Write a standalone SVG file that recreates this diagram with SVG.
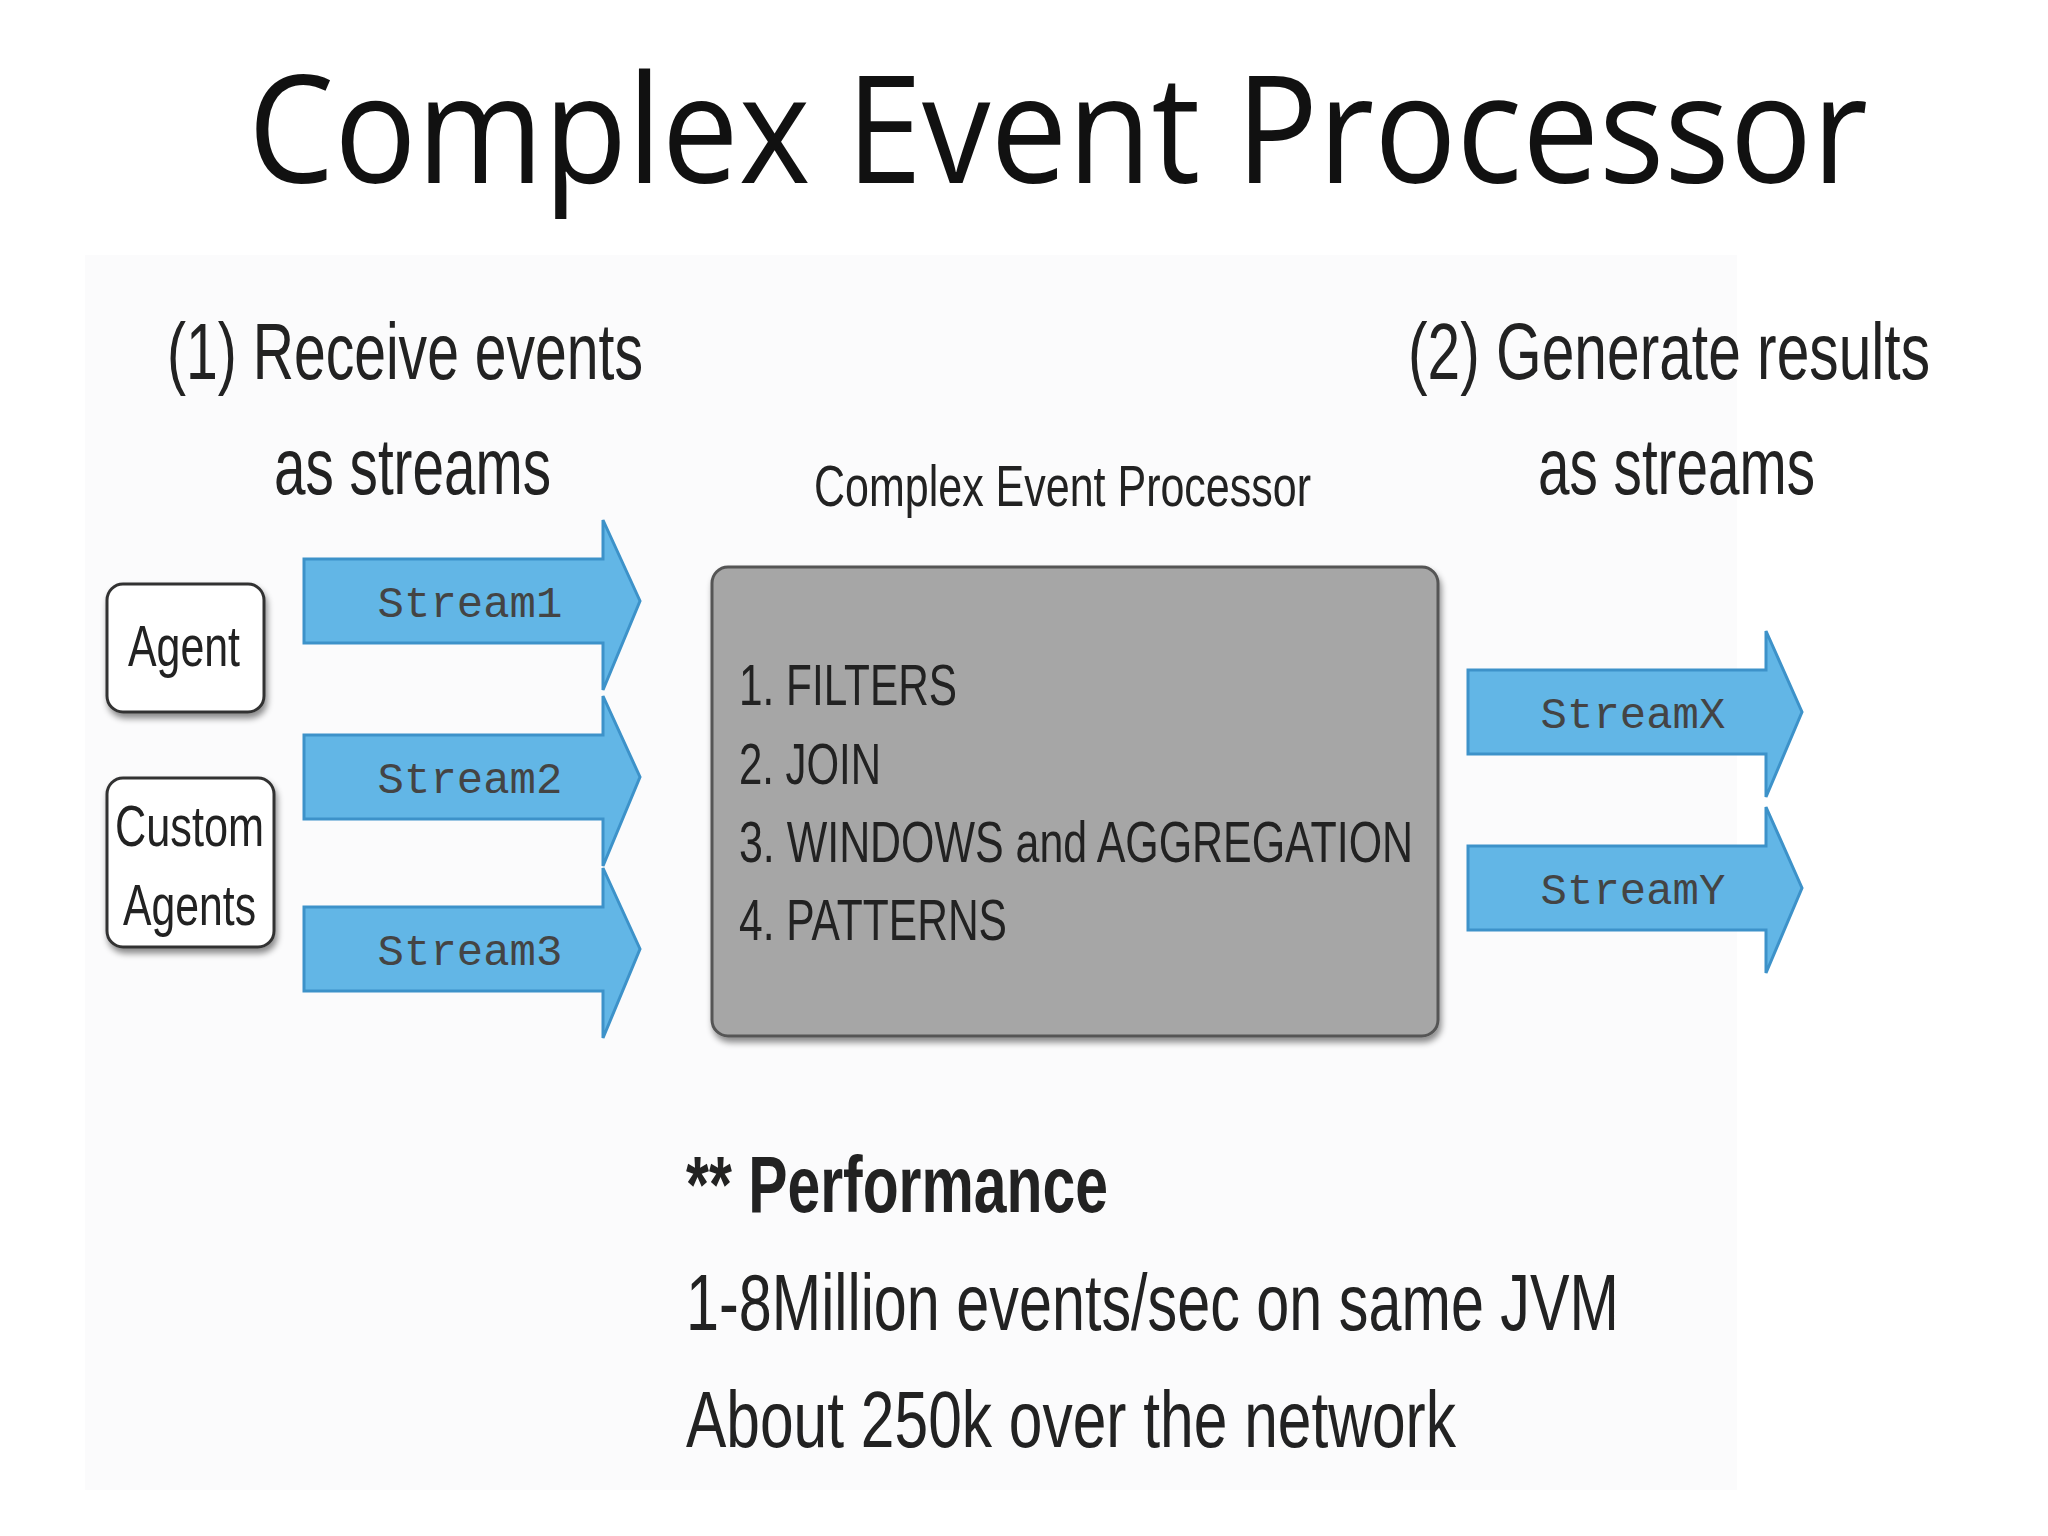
<svg xmlns="http://www.w3.org/2000/svg" width="2048" height="1536" viewBox="0 0 2048 1536">
<style>
.t{font-family:"Open Sans","Liberation Sans",sans-serif;fill:#111}
.c{font-family:"Liberation Sans",sans-serif;fill:#222}
.m{font-family:"Liberation Mono","DejaVu Sans Mono",monospace;font-size:44px;fill:#444;text-anchor:middle}
.arr{fill:#62b6e6;stroke:#3d92c9;stroke-width:3}
.box{fill:#fff;stroke:#333;stroke-width:3}
</style>
<defs>
<filter id="sh" x="-10%" y="-10%" width="130%" height="130%"><feDropShadow dx="2" dy="5" stdDeviation="3" flood-opacity="0.45"/></filter>
</defs>
<rect width="2048" height="1536" fill="#fff"/>
<rect x="85" y="255" width="1652" height="1235" fill="#fbfbfc"/>
<text class="t" x="1058" y="183" font-size="150" text-anchor="middle" textLength="1620" lengthAdjust="spacingAndGlyphs">Complex Event Processor</text>
<text class="c" x="167" y="379" font-size="80" textLength="476" lengthAdjust="spacingAndGlyphs">(1) Receive events</text>
<text class="c" x="274" y="494" font-size="80" textLength="277" lengthAdjust="spacingAndGlyphs">as streams</text>
<text class="c" x="1408" y="379" font-size="80" textLength="522" lengthAdjust="spacingAndGlyphs">(2) Generate results</text>
<text class="c" x="1538" y="494" font-size="80" textLength="277" lengthAdjust="spacingAndGlyphs">as streams</text>
<text class="c" x="814" y="506" font-size="58" textLength="497" lengthAdjust="spacingAndGlyphs">Complex Event Processor</text>
<g id="agent" filter="url(#sh)"><rect class="box" x="107" y="584" width="157" height="128" rx="16"/>
<text class="c" x="128" y="666" font-size="58" textLength="112" lengthAdjust="spacingAndGlyphs">Agent</text></g>
<g id="custom" filter="url(#sh)"><rect class="box" x="107" y="778" width="167" height="169" rx="16"/>
<text class="c" x="115" y="846" font-size="58" textLength="149" lengthAdjust="spacingAndGlyphs">Custom</text>
<text class="c" x="123" y="925" font-size="58" textLength="133" lengthAdjust="spacingAndGlyphs">Agents</text></g>
<g id="connectors">
<g id="s1"><path class="arr" d="M304 559H603V520L640 601L603 690V643H304Z"/><text class="m" x="470" y="617">Stream1</text></g>
<g id="s2"><path class="arr" d="M304 735H603V696L640 777L603 866V819H304Z"/><text class="m" x="470" y="793">Stream2</text></g>
<g id="s3"><path class="arr" d="M304 907H603V868L640 949L603 1038V991H304Z"/><text class="m" x="470" y="965">Stream3</text></g>
<g id="sx"><path class="arr" d="M1468 670H1766V631L1802 712L1766 797V754H1468Z"/><text class="m" x="1633" y="728">StreamX</text></g>
<g id="sy"><path class="arr" d="M1468 846H1766V807L1802 888L1766 973V930H1468Z"/><text class="m" x="1633" y="904">StreamY</text></g>
</g>
<g id="cep"><rect x="712" y="567" width="726" height="469" rx="16" fill="#a6a6a6" stroke="#555" stroke-width="3" filter="url(#sh)"/>
<text class="c" x="739" y="705" font-size="58" textLength="218" lengthAdjust="spacingAndGlyphs">1. FILTERS</text>
<text class="c" x="739" y="784" font-size="58" textLength="142" lengthAdjust="spacingAndGlyphs">2. JOIN</text>
<text class="c" x="739" y="862" font-size="58" textLength="674" lengthAdjust="spacingAndGlyphs">3. WINDOWS and AGGREGATION</text>
<text class="c" x="739" y="940" font-size="58" textLength="268" lengthAdjust="spacingAndGlyphs">4. PATTERNS</text></g>
<text class="c" x="686" y="1212" font-size="80" font-weight="bold" textLength="422" lengthAdjust="spacingAndGlyphs">** Performance</text>
<text class="c" x="686" y="1330" font-size="80" textLength="933" lengthAdjust="spacingAndGlyphs">1-8Million events/sec on same JVM</text>
<text class="c" x="686" y="1447" font-size="80" textLength="770" lengthAdjust="spacingAndGlyphs">About 250k over the network</text>
</svg>
